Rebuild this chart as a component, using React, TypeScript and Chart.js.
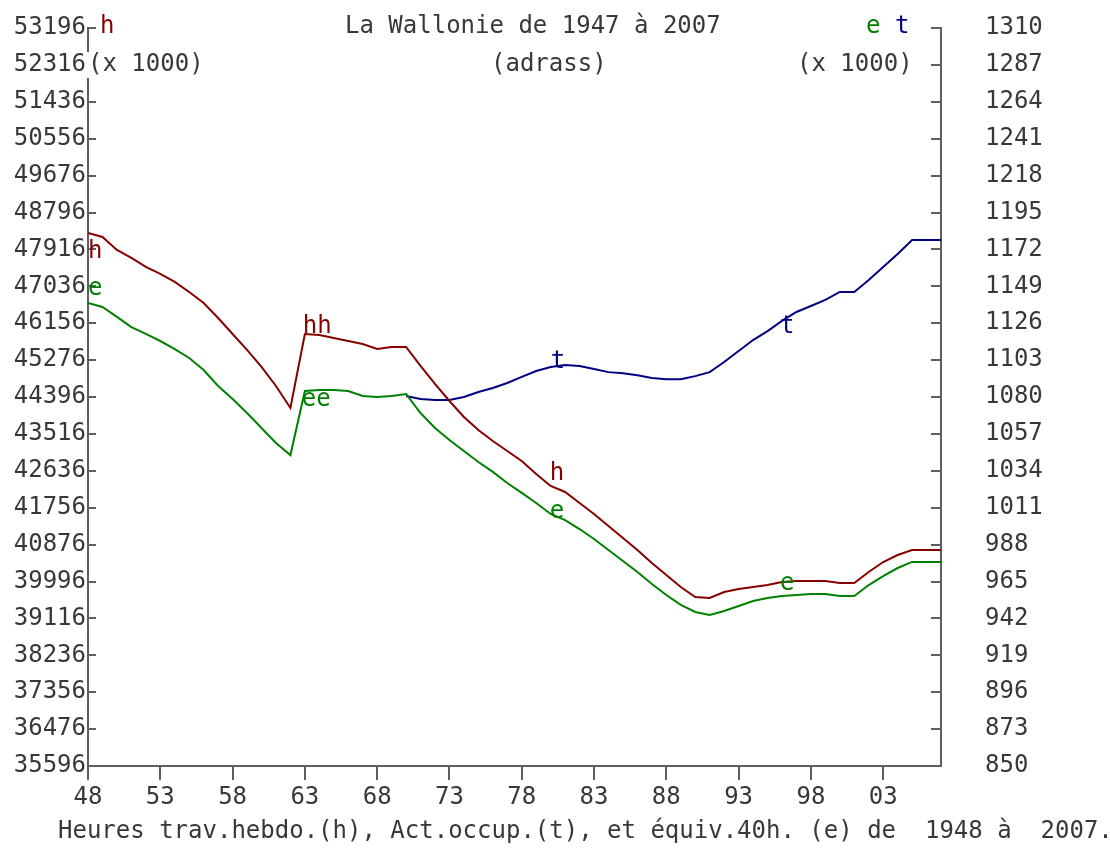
import React, { useEffect, useRef } from "react";
import { Chart, registerables } from "chart.js";

Chart.register(...registerables);

// ---------------- data ----------------
const YEARS = [
  1948, 1949, 1950, 1951, 1952, 1953, 1954, 1955, 1956, 1957,
  1958, 1959, 1960, 1961, 1962, 1963, 1964, 1965, 1966, 1967,
  1968, 1969, 1970, 1971, 1972, 1973, 1974, 1975, 1976, 1977,
  1978, 1979, 1980, 1981, 1982, 1983, 1984, 1985, 1986, 1987,
  1988, 1989, 1990, 1991, 1992, 1993, 1994, 1995, 1996, 1997,
  1998, 1999, 2000, 2001, 2002, 2003, 2004, 2005, 2006, 2007,
];

// h : heures travaillées hebdomadaires (x 1000) - left axis
const H_VALUES = [
  48308, 48213, 47903, 47712, 47497, 47330, 47140, 46901, 46639, 46281,
  45899, 45518, 45112, 44659, 44134, 45899, 45875, 45804, 45732, 45661,
  45541, 45589, 45589, 45136, 44707, 44301, 43920, 43610, 43347, 43109,
  42870, 42560, 42274, 42131, 41869, 41606, 41320, 41034, 40748, 40438,
  40152, 39865, 39627, 39603, 39746, 39817, 39865, 39913, 39984, 40008,
  40008, 40008, 39960, 39960, 40223, 40461, 40628, 40748, 40748, 40748,
];

// e : équivalents 40h (x 1000) - right axis
const E_VALUES = [
  1138.6, 1136.1, 1129.9, 1123.6, 1119.3, 1114.9, 1109.9, 1104.3, 1096.8, 1086.9,
  1078.7, 1070.0, 1060.7, 1051.3, 1043.8, 1083.7, 1084.4, 1084.4, 1083.7, 1080.6,
  1080.0, 1080.6, 1081.9, 1070.0, 1060.7, 1053.2, 1046.3, 1039.5, 1033.3, 1026.4,
  1020.2, 1013.9, 1007.1, 1003.3, 997.7, 991.5, 984.6, 977.8, 970.9, 963.4,
  956.6, 950.4, 946.0, 944.1, 946.6, 949.7, 952.8, 954.7, 956.0, 956.6,
  957.2, 957.2, 956.0, 956.0, 962.8, 968.4, 973.4, 977.2, 977.2, 977.2,
];

// t : actifs occupés (x 1000) - right axis, from 1970
const T_YEARS = [
  1970, 1971, 1972, 1973, 1974, 1975, 1976, 1977, 1978, 1979,
  1980, 1981, 1982, 1983, 1984, 1985, 1986, 1987, 1988, 1989,
  1990, 1991, 1992, 1993, 1994, 1995, 1996, 1997, 1998, 1999,
  2000, 2001, 2002, 2003, 2004, 2005, 2006, 2007,
];
const T_VALUES = [
  1080.6, 1078.7, 1078.1, 1078.1, 1080.0, 1083.1, 1085.6, 1088.7, 1092.5, 1096.2,
  1098.7, 1099.9, 1099.3, 1097.4, 1095.5, 1094.8, 1093.6, 1091.8, 1091.1, 1091.1,
  1093.0, 1095.5, 1101.8, 1108.7, 1115.5, 1121.1, 1127.4, 1133.0, 1136.7, 1140.5,
  1145.5, 1145.5, 1152.9, 1161.0, 1169.1, 1177.9, 1177.9, 1177.9,
];

const X_TICKS = [1948, 1953, 1958, 1963, 1968, 1973, 1978, 1983, 1988, 1993, 1998, 2003];
const X_TICK_LABELS = ["48", "53", "58", "63", "68", "73", "78", "83", "88", "93", "98", "03"];

const LEFT_TICKS = [
  35596, 36476, 37356, 38236, 39116, 39996, 40876, 41756, 42636, 43516, 44396,
  45276, 46156, 47036, 47916, 48796, 49676, 50556, 51436, 52316, 53196,
];
const RIGHT_TICKS = [
  850, 873, 896, 919, 942, 965, 988, 1011, 1034, 1057, 1080,
  1103, 1126, 1149, 1172, 1195, 1218, 1241, 1264, 1287, 1310,
];

const TITLE = "La Wallonie de 1947 à 2007";
const SUBTITLE = "(adrass)";
const UNIT = "(x 1000)";
const FOOTER = "Heures trav.hebdo.(h), Act.occup.(t), et équiv.40h. (e) de  1948 à  2007.";

// ---------------- styles ----------------
const FONT = "24px 'DejaVu Sans Mono', 'Liberation Mono', monospace";
const TEXT = "#383838";
const AXIS = "#5e5e5e";
const C_H = "#860000";
const C_E = "#008000";
const C_T = "#000084";

const MARKERS = [
  { s: "h", year: 1948, text: "h", dx: 0, dy: 25 },
  { s: "e", year: 1948, text: "e", dx: 0, dy: -8 },
  { s: "h", year: 1963, text: "hh", dx: -2, dy: -1 },
  { s: "e", year: 1963, text: "ee", dx: -3, dy: 15 },
  { s: "h", year: 1980, text: "h", dx: -1, dy: -6 },
  { s: "e", year: 1980, text: "e", dx: -1, dy: 4 },
  { s: "t", year: 1980, text: "t", dx: 0, dy: 1 },
  { s: "t", year: 1996, text: "t", dx: -2, dy: 12 },
  { s: "e", year: 1996, text: "e", dx: -2, dy: -6 },
];

const decorPlugin = {
  id: "decor",
  afterDraw(chart: any) {
    const ctx = chart.ctx as CanvasRenderingContext2D;
    const yL = chart.scales.yL;
    const yR = chart.scales.yR;
    const x = chart.scales.x;
    ctx.save();
    // inward tick marks
    ctx.strokeStyle = AXIS;
    ctx.lineWidth = 2;
    ctx.beginPath();
    for (const v of LEFT_TICKS) {
      const py = Math.round(yL.getPixelForValue(v));
      ctx.moveTo(yL.right, py);
      ctx.lineTo(yL.right + 8, py);
    }
    for (const v of RIGHT_TICKS) {
      const py = Math.round(yR.getPixelForValue(v));
      ctx.moveTo(yR.left, py);
      ctx.lineTo(yR.left - 10, py);
    }
    ctx.stroke();

    ctx.font = FONT;
    ctx.textBaseline = "middle";
    ctx.textAlign = "left";
    // left unit with white background
    ctx.fillStyle = "#ffffff";
    ctx.fillRect(87, 52, 118, 26);
    ctx.fillStyle = TEXT;
    ctx.fillText(UNIT, 88, 65);
    // left series letter
    ctx.fillStyle = C_H;
    ctx.fillText("h", 100, 27);
    // title
    ctx.fillStyle = TEXT;
    ctx.fillText(TITLE, 345, 27);
    ctx.fillText(SUBTITLE, 491, 65);
    // right header
    ctx.fillStyle = C_E;
    ctx.fillText("e", 866, 27);
    ctx.fillStyle = C_T;
    ctx.fillText("t", 895, 27);
    ctx.fillStyle = TEXT;
    ctx.fillText(UNIT, 797, 65);
    // footer
    ctx.fillText(FOOTER, 58, 832);

    // series markers
    ctx.textBaseline = "alphabetic";
    for (const m of MARKERS) {
      let val: number;
      let sc: any;
      let col: string;
      if (m.s === "h") {
        val = H_VALUES[YEARS.indexOf(m.year)];
        sc = yL;
        col = C_H;
      } else if (m.s === "e") {
        val = E_VALUES[YEARS.indexOf(m.year)];
        sc = yR;
        col = C_E;
      } else {
        val = T_VALUES[T_YEARS.indexOf(m.year)];
        sc = yR;
        col = C_T;
      }
      const px = x.getPixelForValue(m.year) + m.dx;
      const py = sc.getPixelForValue(val) + m.dy;
      ctx.fillStyle = col;
      ctx.fillText(m.text, px, py);
    }
    ctx.restore();
  },
};

export default function App() {
  const ref = useRef<HTMLCanvasElement | null>(null);

  useEffect(() => {
    if (!ref.current) return;
    const tickFont = { family: "'DejaVu Sans Mono', 'Liberation Mono', monospace", size: 24 };
    const fitY = (w: number) => (s: any) => {
      s.width = w;
      s.paddingTop = 28;
      s.paddingBottom = 0;
    };
    const chart = new Chart(ref.current, {
      type: "line",
      data: {
        datasets: [
          {
            label: "h",
            data: YEARS.map((y, i) => ({ x: y, y: H_VALUES[i] })),
            borderColor: C_H,
            borderWidth: 2,
            pointRadius: 0,
            tension: 0,
            yAxisID: "yL",
          },
          {
            label: "e",
            data: YEARS.map((y, i) => ({ x: y, y: E_VALUES[i] })),
            borderColor: C_E,
            borderWidth: 2,
            pointRadius: 0,
            tension: 0,
            yAxisID: "yR",
          },
          {
            label: "t",
            data: T_YEARS.map((y, i) => ({ x: y, y: T_VALUES[i] })),
            borderColor: C_T,
            borderWidth: 2,
            pointRadius: 0,
            tension: 0,
            yAxisID: "yR",
          },
        ],
      },
      options: {
        responsive: false,
        animation: false,
        devicePixelRatio: 1,
        layout: { padding: 0 },
        plugins: {
          legend: { display: false },
          tooltip: { enabled: false },
          title: { display: false },
        },
        scales: {
          x: {
            type: "linear",
            min: 1948,
            max: 2007,
            afterBuildTicks: (s: any) => {
              s.ticks = X_TICKS.map((v) => ({ value: v }));
            },
            afterFit: (s: any) => {
              s.height = 86;
              s.paddingLeft = 0;
              s.paddingRight = 0;
            },
            ticks: {
              autoSkip: false,
              maxRotation: 0,
              padding: 3,
              color: TEXT,
              font: tickFont,
              callback: (v: any) => X_TICK_LABELS[X_TICKS.indexOf(Number(v))] ?? "",
            },
            grid: {
              display: true,
              drawOnChartArea: false,
              drawTicks: true,
              tickLength: 14,
              color: AXIS,
              lineWidth: 2,
            },
            border: { display: true, color: AXIS, width: 2 },
          },
          yL: {
            type: "linear",
            position: "left",
            min: 35596,
            max: 53196,
            afterBuildTicks: (s: any) => {
              s.ticks = LEFT_TICKS.map((v) => ({ value: v }));
            },
            afterFit: fitY(88),
            ticks: {
              autoSkip: false,
              padding: 2,
              color: TEXT,
              font: tickFont,
              callback: (v: any) => String(v),
            },
            grid: { display: false, drawTicks: false },
            border: { display: true, color: AXIS, width: 2 },
          },
          yR: {
            type: "linear",
            position: "right",
            min: 850,
            max: 1310,
            afterBuildTicks: (s: any) => {
              s.ticks = RIGHT_TICKS.map((v) => ({ value: v }));
            },
            afterFit: fitY(169),
            ticks: {
              autoSkip: false,
              padding: 44,
              color: TEXT,
              font: tickFont,
              callback: (v: any) => String(v),
            },
            grid: { display: false, drawTicks: false },
            border: { display: true, color: AXIS, width: 2 },
          },
        },
      },
      plugins: [decorPlugin],
    } as any);
    return () => chart.destroy();
  }, []);

  return (
    <div style={{ position: "absolute", left: 0, top: 0, width: 1110, height: 852, background: "#ffffff" }}>
      <canvas ref={ref} width={1110} height={852} style={{ display: "block" }} />
    </div>
  );
}
